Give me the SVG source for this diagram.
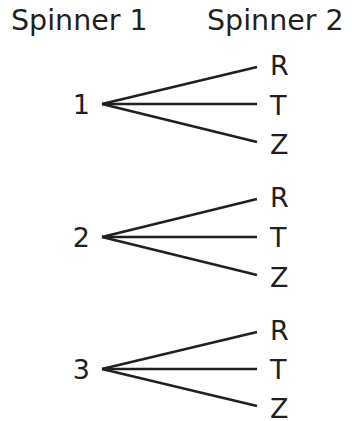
<svg xmlns="http://www.w3.org/2000/svg" width="352" height="421" viewBox="0 0 352 421">
<style>
text{font-family:"DejaVu Sans","Verdana",sans-serif;fill:#231f20}
.h{font-size:28.5px}
.l{font-size:27px}
.n{font-size:27px;text-anchor:end}
.c line{stroke:#231f20;stroke-width:2.7;stroke-linecap:butt}
</style>
<rect width="352" height="421" fill="#fff"/>
<g id="headers">
<text class="h" x="11" y="29.5">Spinner 1</text>
<text class="h" x="207" y="29.5">Spinner 2</text>
</g>
<g id="connectors" class="c">
<line x1="102" y1="104" x2="257" y2="67"/>
<line x1="102" y1="104" x2="257" y2="104"/>
<line x1="102" y1="104" x2="257" y2="142"/>
<line x1="102" y1="237" x2="257" y2="199"/>
<line x1="102" y1="237" x2="257" y2="237"/>
<line x1="102" y1="237" x2="257" y2="275"/>
<line x1="102" y1="369" x2="257" y2="332"/>
<line x1="102" y1="369" x2="257" y2="369"/>
<line x1="102" y1="369" x2="257" y2="406"/>
</g>
<g id="n1"><text class="n" x="90" y="114">1</text></g>
<g id="n2"><text class="n" x="90" y="247">2</text></g>
<g id="n3"><text class="n" x="90" y="379">3</text></g>
<g id="g1R"><text class="l" x="270" y="75">R</text></g>
<g id="g1T"><text class="l" x="270" y="115">T</text></g>
<g id="g1Z"><text class="l" x="270" y="154">Z</text></g>
<g id="g2R"><text class="l" x="270" y="207">R</text></g>
<g id="g2T"><text class="l" x="270" y="247">T</text></g>
<g id="g2Z"><text class="l" x="270" y="287">Z</text></g>
<g id="g3R"><text class="l" x="270" y="340">R</text></g>
<g id="g3T"><text class="l" x="270" y="379">T</text></g>
<g id="g3Z"><text class="l" x="270" y="418">Z</text></g>
</svg>
